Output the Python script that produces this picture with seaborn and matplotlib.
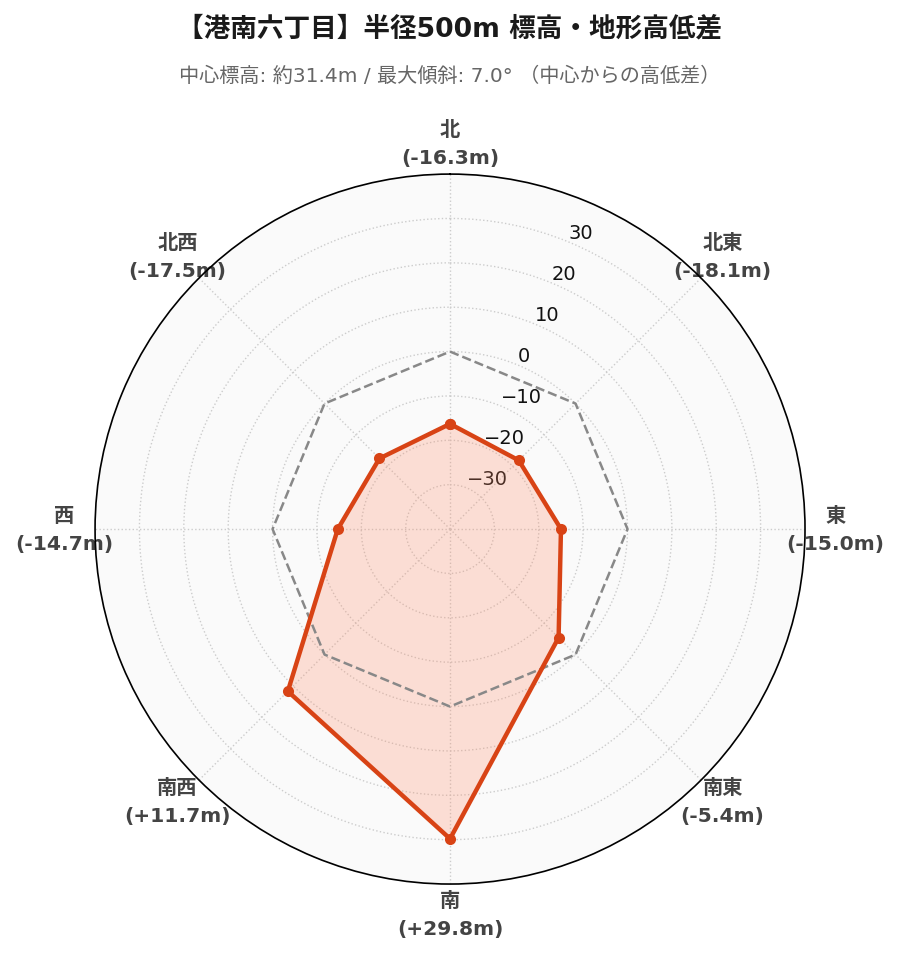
import matplotlib
matplotlib.use("Agg")

import numpy as np
import pandas as pd
import matplotlib.pyplot as plt
import seaborn as sns

# ------------------------------------------------------------------
# Data
# ------------------------------------------------------------------
directions = ["北", "北東", "東", "南東", "南", "南西", "西", "北西"]
elev_diff = [-16.3, -18.1, -15.0, -5.4, 29.8, 11.7, -14.7, -17.5]
r_ticks = [-30, -20, -10, 0, 10, 20, 30]
r_limits = (-40, 40)

title = "【港南六丁目】半径500m 標高・地形高低差"
subtitle = "中心標高: 約31.4m / 最大傾斜: 7.0° （中心からの高低差）"

LINE_COLOR = "#D84315"
FILL_COLOR = "#FF8A65"

sns.set_theme(style="white")
plt.rcParams["font.family"] = ["DejaVu Sans", "Noto Sans CJK JP"]

theta = np.deg2rad(np.arange(len(directions)) * 45.0)
df = pd.DataFrame({"theta": theta, "diff": elev_diff})
# close the polygon at 2*pi (a repeated x of 0 would get aggregated)
closed = pd.concat(
    [df, pd.DataFrame({"theta": [2 * np.pi], "diff": [elev_diff[0]]})],
    ignore_index=True,
)
zero_ring = closed.assign(diff=0.0)

fig = plt.figure(figsize=(8.99, 9.62), dpi=100)
ax = fig.add_axes([0.1057, 0.080, 0.7898, 0.738], projection="polar")
ax.set_theta_zero_location("N")
ax.set_theta_direction(-1)
ax.set_facecolor("#fafafa")

# reference ring at 0 m
sns.lineplot(data=zero_ring, x="theta", y="diff", sort=False, ax=ax,
             color="#888888", linestyle="--", linewidth=1.8, zorder=3)

# elevation difference polygon
ax.fill(closed["theta"], closed["diff"], color=FILL_COLOR, alpha=0.25,
        linewidth=0, zorder=2)
sns.lineplot(data=closed, x="theta", y="diff", sort=False, ax=ax,
             color=LINE_COLOR, linewidth=3.2, marker="o", markersize=8,
             markeredgewidth=0, zorder=4)
ax.set_ylim(*r_limits)

# axes styling
ax.set_xlabel("")
ax.set_ylabel("")
ax.set_xticks(theta)
ax.set_xticklabels(
    [f"{d}\n({v:+.1f}m)" if v > 0 else f"{d}\n({v:.1f}m)"
     for d, v in zip(directions, elev_diff)],
    fontsize=14.6, fontweight="bold", color="#444444", linespacing=1.6,
)
ax.tick_params(axis="x", pad=9)
ax.set_yticks(r_ticks)
ax.set_yticklabels([str(t).replace("-", "\u2212") for t in r_ticks],
                   fontsize=14, color="#111111")
ax.set_rlabel_position(22.5)
ax.grid(True, color="#cccccc", linestyle=":", linewidth=1.0)
ax.spines["polar"].set_color("black")
ax.spines["polar"].set_linewidth(1.2)
ax.spines["polar"].set_zorder(5)

fig.text(0.5, 0.969, title, ha="center", va="center",
         fontsize=19.2, fontweight="bold", color="#1a1a1a")
fig.text(0.5, 0.921, subtitle, ha="center", va="center",
         fontsize=14.5, color="#666666")

fig.savefig("out.png", dpi=100)
plt.close("all")
